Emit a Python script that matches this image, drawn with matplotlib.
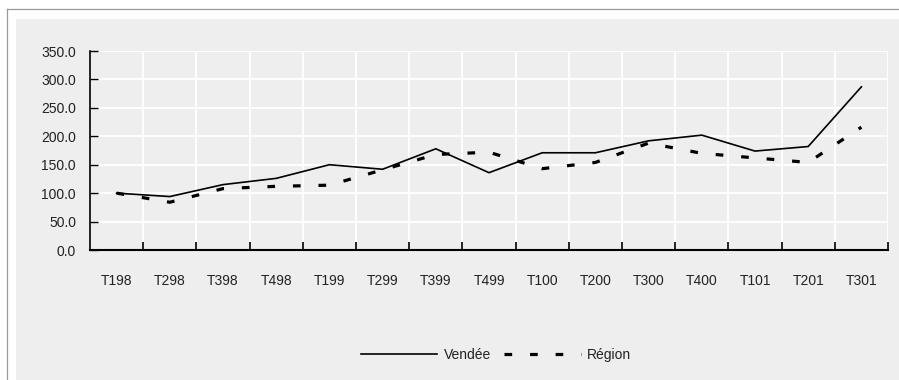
import matplotlib.pyplot as plt
from matplotlib.patches import Rectangle
from matplotlib.lines import Line2D
import numpy as np

plt.rcParams["font.family"] = ["Liberation Sans", "DejaVu Sans"]

quarters = ["T198", "T298", "T398", "T498", "T199", "T299", "T399", "T499",
            "T100", "T200", "T300", "T400", "T101", "T201", "T301"]
vendee = [100, 94, 115, 126, 150, 142, 178, 136, 171, 171, 192, 202, 174, 182, 287]
region = [100, 84, 108, 112, 114, 141, 168, 172, 143, 154, 188, 170, 162, 154, 216]
yticks = [0, 50, 100, 150, 200, 250, 300, 350]

W, H = 899, 380
fig = plt.figure(figsize=(W / 100, H / 100), dpi=100)
fig.patch.set_facecolor("white")

# outer frame lines and grey panel
fig.add_artist(Line2D([7 / W, 1], [1 - 9 / H, 1 - 9 / H], color="#999999", lw=0.9))
fig.add_artist(Line2D([7 / W, 7 / W], [0, 1 - 9 / H], color="#999999", lw=0.9))
fig.add_artist(Rectangle((16 / W, 0), 1, 1 - 19 / H, facecolor="#eeeeee",
                         edgecolor="none", zorder=0))

# plot area in pixels: x 90..888, y 51..250
ax = fig.add_axes([90 / W, 1 - 250 / H, 798 / W, 199 / H])
ax.set_facecolor("#eeeeee")

x = np.arange(len(quarters))
ax.plot(x, vendee, color="black", lw=1.2, solid_joinstyle="miter", zorder=3)
ax.plot(x, region, color="black", lw=2.3, dashes=(2.4, 5.6), zorder=3)

ax.set_xlim(-0.5, len(quarters) - 0.5)
ax.set_ylim(0, 350)

# white grid at category boundaries and y ticks
for b in np.arange(0.5, len(quarters) - 0.5 + 0.01, 1):
    ax.axvline(b, color="white", lw=1.3, zorder=1)
for v in yticks[1:]:
    ax.axhline(v, color="white", lw=1.3, zorder=1)

ax.set_yticks(yticks)
ax.set_yticklabels([f"{v:.1f}" for v in yticks])
ax.set_xticks(np.arange(0.5, len(quarters) - 0.5 + 0.01, 1))
ax.set_xticklabels([])
ax.set_xticks(x, minor=True)
ax.set_xticklabels(quarters, minor=True)
ax.tick_params(axis="x", which="major", direction="in", length=6, width=1.2, color="black")
ax.tick_params(axis="x", which="minor", length=0, pad=17, labelsize=10, labelcolor="#222222")
ax.tick_params(axis="y", direction="in", length=6, width=1.0, pad=10,
               labelsize=10, labelcolor="#222222")

for s in ["top", "right"]:
    ax.spines[s].set_visible(False)
ax.spines["left"].set_linewidth(1.2)
ax.spines["bottom"].set_linewidth(1.5)

handles = [Line2D([], [], color="black", lw=1.2),
           Line2D([], [], color="black", lw=2.3, dashes=(2.4, 5.6))]
fig.legend(handles, ["Vendée", "Région"], loc="center", bbox_to_anchor=(496 / W, 1 - 355 / H),
           ncol=2, frameon=False, fontsize=10, handlelength=5.5, handletextpad=0.45,
           columnspacing=0.95, labelcolor="#222222")

fig.savefig("out.png", dpi=100)
